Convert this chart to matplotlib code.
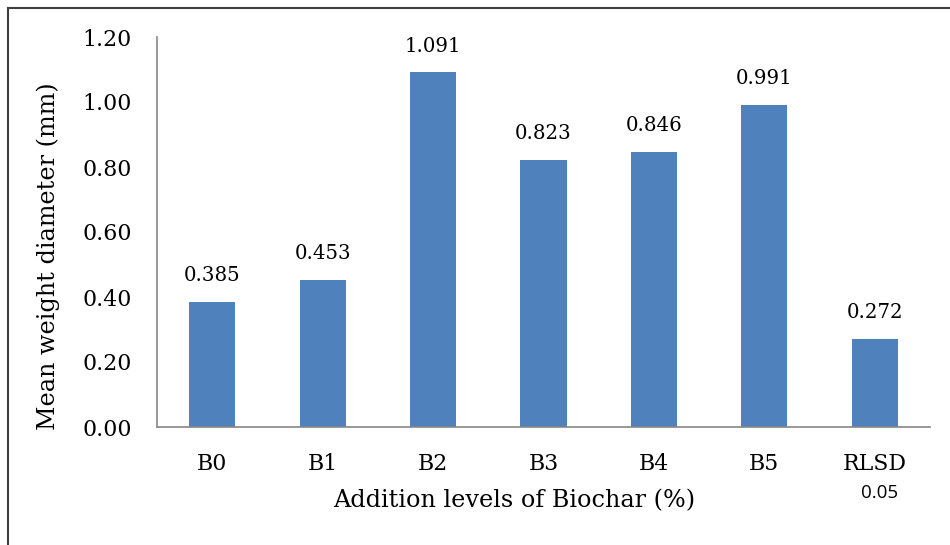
import matplotlib
matplotlib.use("Agg")
import matplotlib.pyplot as plt
from matplotlib.lines import Line2D

categories = ["B0", "B1", "B2", "B3", "B4", "B5", "RLSD"]
values = [0.385, 0.453, 1.091, 0.823, 0.846, 0.991, 0.272]
value_labels = ["0.385", "0.453", "1.091", "0.823", "0.846", "0.991", "0.272"]
yticks = [0.0, 0.2, 0.4, 0.6, 0.8, 1.0, 1.2]
ytick_labels = ["0.00", "0.20", "0.40", "0.60", "0.80", "1.00", "1.20"]

SERIF = "DejaVu Serif"
W, H = 950, 545
fig = plt.figure(figsize=(W / 100, H / 100), dpi=100)
ax = fig.add_axes([157 / W, 1 - 427 / H, (930 - 157) / W, (427 - 37) / H])

bar_color = "#4F81BD"
x = list(range(len(categories)))
ax.bar(x, values, width=0.417, color=bar_color, zorder=2)
ax.set_xlim(-0.5, len(categories) - 0.5)
ax.set_ylim(0, 1.2)

for xi, v, lab in zip(x, values, value_labels):
    ax.annotate(lab, (xi, v), xytext=(0, 12), textcoords="offset points",
                ha="center", va="bottom", fontsize=14.2, family=SERIF)

ax.set_yticks(yticks)
ax.set_yticklabels(ytick_labels, family=SERIF, fontsize=15.8)
ax.set_xticks(x)
ax.set_xticklabels(categories, family=SERIF, fontsize=15.8)
ax.tick_params(axis="both", length=0)
ax.tick_params(axis="y", pad=18)
ax.tick_params(axis="x", pad=19)

for s in ["top", "right"]:
    ax.spines[s].set_visible(False)
for s in ["left", "bottom"]:
    ax.spines[s].set_color("#868686")
    ax.spines[s].set_linewidth(1.2)

fig.text(514 / W, 1 - 501 / H, "Addition levels of Biochar (%)", family=SERIF,
         fontsize=17.2, ha="center", va="center")
fig.text(48 / W, 1 - 256 / H, "Mean weight diameter (mm)", family=SERIF, fontsize=17.2,
         rotation=90, ha="center", va="center")

# subscript 0.05 under RLSD
ax.text(6.045, -0.203, "0.05", transform=ax.transData, ha="center", va="center",
        fontsize=13.5, family="Open Sans", clip_on=False)

# partial figure border (left and top)
fig.add_artist(Line2D([7.5 / W, 7.5 / W], [0, 1 - 7.5 / H], color="#404040", lw=1.5,
                      transform=fig.transFigure))
fig.add_artist(Line2D([7.5 / W, 1], [1 - 7.5 / H, 1 - 7.5 / H], color="#404040", lw=1.5,
                      transform=fig.transFigure))

fig.savefig("out.png", dpi=100)
